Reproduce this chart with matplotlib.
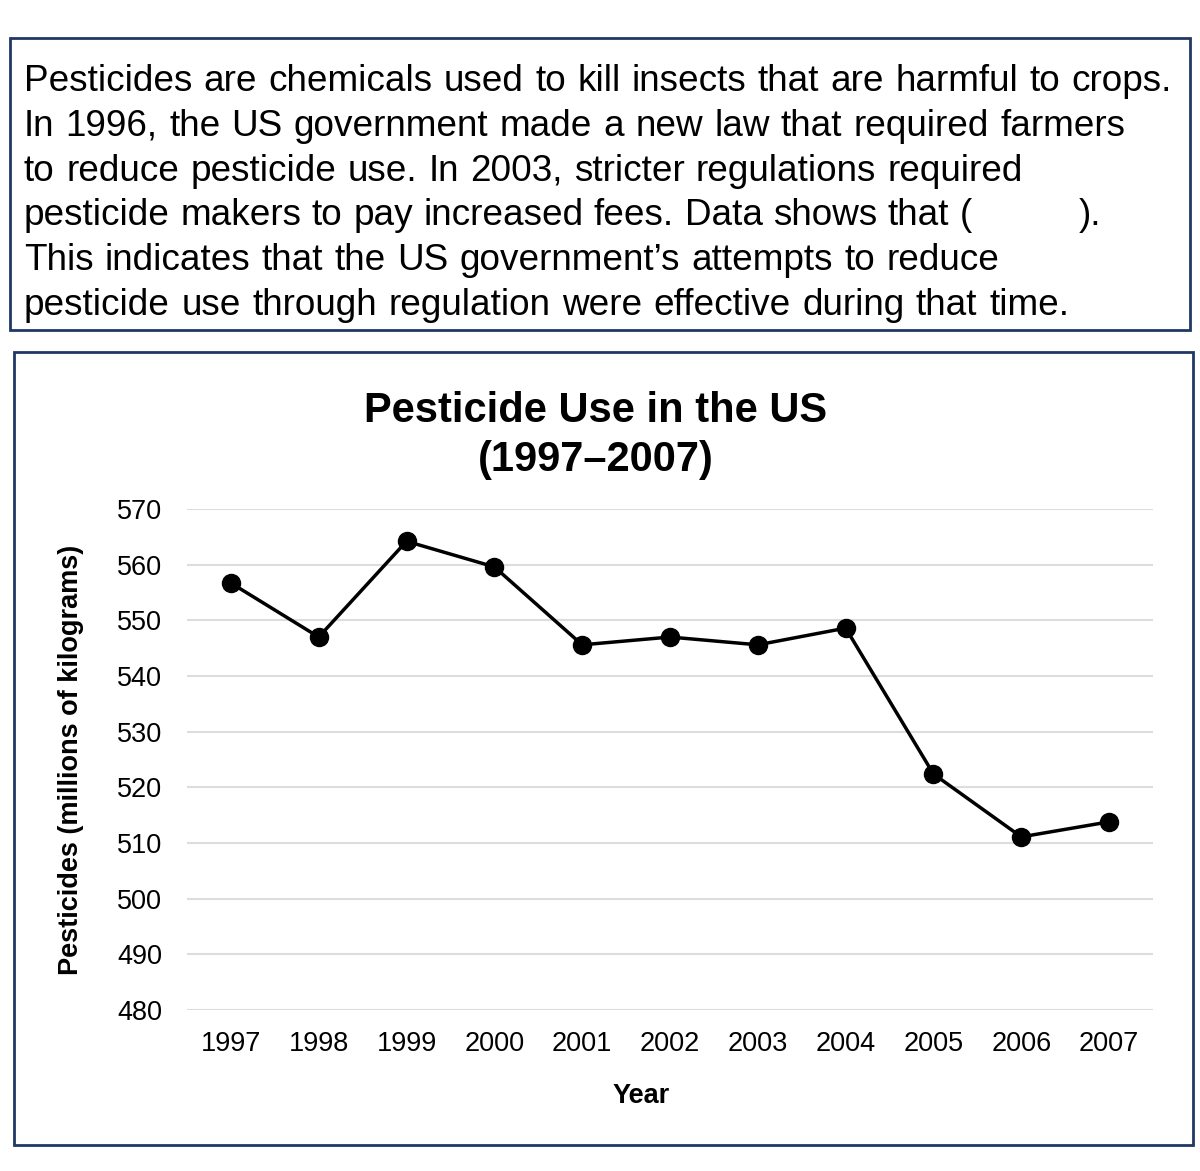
import matplotlib.pyplot as plt
from matplotlib.patches import Rectangle

# data
years = ["1997", "1998", "1999", "2000", "2001", "2002",
         "2003", "2004", "2005", "2006", "2007"]
use = [556.7, 547.0, 564.2, 559.6, 545.6, 547.0, 545.6, 548.6, 522.4, 511.1, 513.8]
yticks = [480, 490, 500, 510, 520, 530, 540, 550, 560, 570]

prompt = [
    "Pesticides are chemicals used to kill insects that are harmful to crops.",
    "In 1996, the US government made a new law that required farmers",
    "to reduce pesticide use. In 2003, stricter regulations required",
    "pesticide makers to pay increased fees. Data shows that ( ).",
    "This indicates that the US government\u2019s attempts to reduce",
    "pesticide use through regulation were effective during that time.",
]
# right edge (px) of each prompt line in the reference
line_end = [1172, 1125, 1023, 1105, 999, 1069]

W, H = 1200, 1171
plt.rcParams['font.family'] = ['Liberation Sans', 'DejaVu Sans']
fig = plt.figure(figsize=(W / 100, H / 100), dpi=100, facecolor='white')
renderer = fig.canvas.get_renderer()

def fx(px):
    return px / W

def fy(py):
    return 1 - py / H

box_col = '#1f3864'
# question box
fig.add_artist(Rectangle((fx(10), fy(330)), fx(1180), 292 / H, transform=fig.transFigure,
                         fill=False, edgecolor=box_col, linewidth=2))
# chart box
fig.add_artist(Rectangle((fx(14), fy(1145)), fx(1179), 793 / H, transform=fig.transFigure,
                         fill=False, edgecolor=box_col, linewidth=2))

# place word by word so every line ends where it does in the reference
blank = 100  # width of the answer blank inside the brackets
for i, line in enumerate(prompt):
    words = line.split(" ")
    texts = [fig.text(0, fy(91 + 44.8 * i), w, fontsize=26.6, ha='left', va='baseline')
             for w in words]
    widths = [t.get_window_extent(renderer).width for t in texts]
    extra = blank if "(" in words else 0
    gap = (line_end[i] - 24 - sum(widths) - extra) / (len(words) - 1)
    xpos = 24
    for w, t, wd in zip(words, texts, widths):
        t.set_x(fx(xpos))
        xpos += wd + gap
        if w == "(":
            xpos += blank - gap * 0.4

ax = fig.add_axes([fx(187), fy(1010), fx(1153 - 187), (1010 - 509) / H])
x = range(len(years))
ax.plot(x, use, color='black', linewidth=2.5, marker='o', markersize=13, zorder=3)
ax.set_xlim(-0.5, len(years) - 0.5)
ax.set_ylim(480, 570)
ax.set_xticks(list(x))
ax.set_xticklabels(years)
ax.set_yticks(yticks)
ax.tick_params(axis='both', length=0, labelsize=19.5)
ax.tick_params(axis='y', pad=18)
ax.tick_params(axis='x', pad=15)
ax.grid(axis='y', color='#dddddd', linewidth=1.5)
ax.set_axisbelow(True)
for s in ax.spines.values():
    s.set_visible(False)

ax.set_xlabel("Year", fontsize=19.5, fontweight='bold')
ax.xaxis.set_label_coords((641 - 187) / (1153 - 187), -0.146)
ax.set_ylabel("Pesticides (millions of kilograms)", fontsize=19.5, fontweight='bold')
ax.yaxis.set_label_coords(-(187 - 84) / (1153 - 187), 0.5)

fig.text(fx(596), fy(411), "Pesticide Use in the US", fontsize=30, fontweight='bold',
         ha='center', va='center')
fig.text(fx(596), fy(460), "(1997\u20132007)", fontsize=30, fontweight='bold',
         ha='center', va='center')

fig.savefig('out.png', dpi=100)
